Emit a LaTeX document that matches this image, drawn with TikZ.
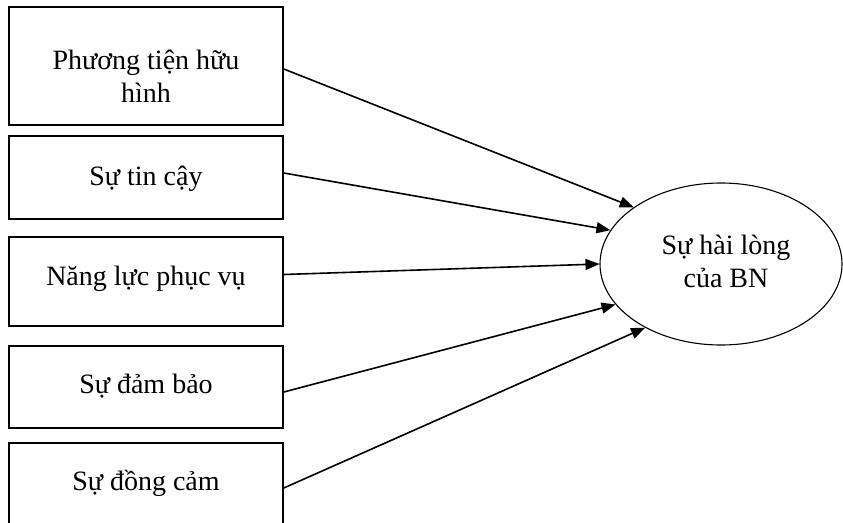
\documentclass[tikz,border=0pt]{standalone}
\usepackage{fontspec}
\setmainfont{Liberation Serif}
\usetikzlibrary{shapes.geometric,arrows.meta}
\tikzset{
  factorbox/.style={draw,line width=1.6pt,minimum width=274pt,inner sep=0pt},
  factortext/.style={anchor=base,inner sep=0pt,align=center,font=\fontsize{28}{33}\selectfont},
  outcome/.style={draw,ellipse,line width=1.1pt,minimum width=242pt,minimum height=162pt,inner sep=0pt},
  link/.style={line width=1.6pt,-{Triangle[length=14pt,width=11pt]}}
}
\begin{document}
\begin{tikzpicture}[x=1pt,y=-1pt]
\useasboundingbox (0,0) rectangle (843,522);
\clip (0,0) rectangle (843,522);
\node[factorbox,minimum height=118pt] (b1) at (146,66) {};
\node[factorbox,minimum height=83pt] (b2) at (146,177.5) {};
\node[factorbox,minimum height=89pt] (b3) at (146,281.5) {};
\node[factorbox,minimum height=82pt] (b4) at (146,387) {};
\node[factorbox,minimum height=97pt] (b5) at (146,491.5) {};
\node[factortext] (t1) at (146,102) {Phương tiện hữu\\hình};
\node[factortext] (t2) at (146,185) {Sự tin cậy};
\node[factortext] (t3) at (146,285) {Năng lực phục vụ};
\node[factortext] (t4) at (146,393) {Sự đảm bảo};
\node[factortext] (t5) at (146,490) {Sự đồng cảm};
\node[outcome] (e) at (721,264) {};
\node[factortext] (et) at (726,287) {Sự hài lòng\\của BN};
\draw[link] ([yshift=-3pt]b1.east) -- (e.147);
\draw[link] ([yshift=4.5pt]b2.east) -- (e.163);
\draw[link] ([yshift=7pt]b3.east) -- (e.180);
\draw[link] ([yshift=-5pt]b4.east) -- (e.201);
\draw[link] ([yshift=3.5pt]b5.east) -- (e.220);
\end{tikzpicture}
\end{document}
